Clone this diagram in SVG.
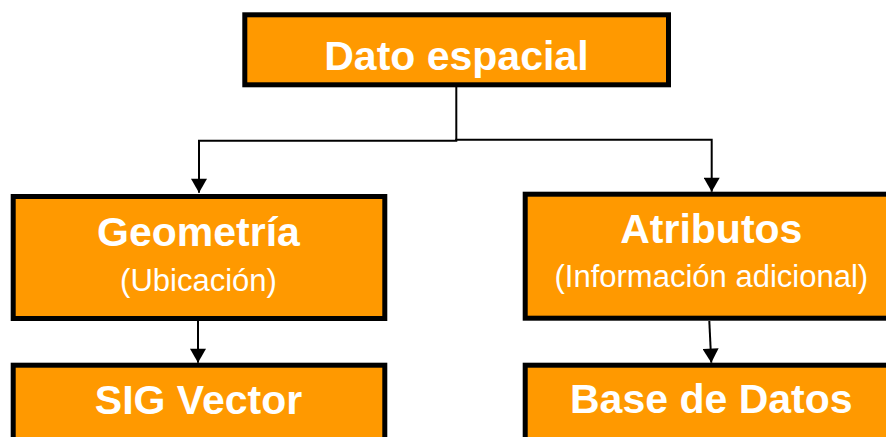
<svg xmlns="http://www.w3.org/2000/svg" width="886" height="437" viewBox="0 0 886 437">
<defs>
<style>
.box{fill:#FF9900;stroke:#000;stroke-width:5}
.t{font-family:"Liberation Sans",Arial,sans-serif;font-weight:bold;font-size:41px;fill:#fff;text-anchor:middle}
.s{font-family:"Liberation Sans",Arial,sans-serif;font-size:31px;fill:#fff;text-anchor:middle}
.c{fill:none;stroke:#000;stroke-width:2}
</style>
<marker id="ah" markerUnits="userSpaceOnUse" markerWidth="16" markerHeight="16" refX="14" refY="8" orient="auto" viewBox="0 0 14 16">
<path d="M0,0 L14,8 L0,16 z" fill="#000"/>
</marker>
</defs>
<rect width="886" height="437" fill="#fff"/>
<g id="connectors">
<path class="c" d="M456.3,87 V140.2"/>
<path class="c" d="M457.3,140.7 H199 V192.7" marker-end="url(#ah)"/>
<path class="c" d="M455.3,139.7 H711.7 V191.7" marker-end="url(#ah)"/>
<path class="c" d="M198,321 V362.7" marker-end="url(#ah)"/>
<path class="c" d="M709.3,321 L711.3,362.7" marker-end="url(#ah)"/>
</g>
<g id="dato">
<rect class="box" x="244.8" y="14.8" width="423.7" height="70"/>
<text class="t" x="456.4" y="69.6">Dato espacial</text>
</g>
<g id="geometria">
<rect class="box" x="13.2" y="196.5" width="371.6" height="122"/>
<text class="t" x="198.5" y="245.7">Geometría</text>
<text class="s" x="198.5" y="291">(Ubicación)</text>
</g>
<g id="atributos">
<rect class="box" x="525.2" y="194.2" width="372" height="124"/>
<text class="t" x="711.3" y="243.3">Atributos</text>
<text class="s" x="711.3" y="287.3">(Información adicional)</text>
</g>
<g id="sig">
<rect class="box" x="13.2" y="365.2" width="371.6" height="100"/>
<text class="t" x="198.5" y="414.3">SIG Vector</text>
</g>
<g id="base">
<rect class="box" x="525.2" y="365.2" width="372" height="100"/>
<text class="t" x="711.3" y="413.3">Base de Datos</text>
</g>
</svg>
